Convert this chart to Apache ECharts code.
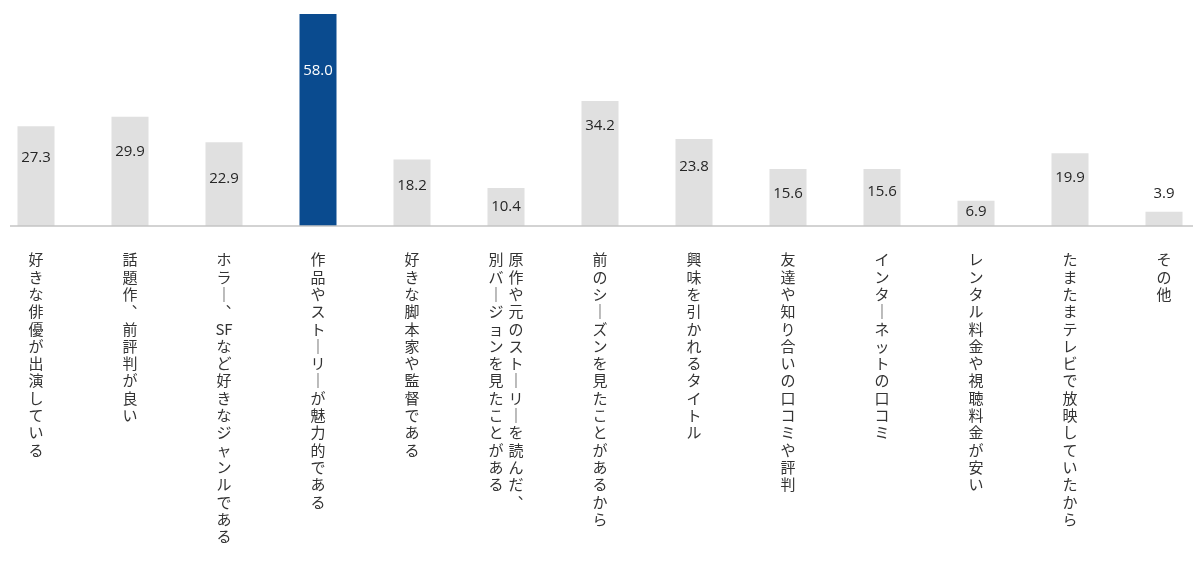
<!DOCTYPE html>
<html>
<head>
<meta charset="utf-8">
<script src="https://cdn.jsdelivr.net/npm/echarts@6/dist/echarts.min.js"></script>
<style>
html,body{margin:0;padding:0;background:#fff;}
#chart{width:1200px;height:588px;}
</style>
</head>
<body>
<div id="chart"></div>
<script>
// ---- data ----
const categories = [
  '好きな俳優が出演している',
  '話題作、前評判が良い',
  'ホラー、SFなど好きなジャンルである',
  '作品やストーリーが魅力的である',
  '好きな脚本家や監督である',
  '原作や元のストーリーを読んだ、\n別バージョンを見たことがある',
  '前のシーズンを見たことがあるから',
  '興味を引かれるタイトル',
  '友達や知り合いの口コミや評判',
  'インターネットの口コミ',
  'レンタル料金や視聴料金が安い',
  'たまたまテレビで放映していたから',
  'その他'
];
const values = [27.3, 29.9, 22.9, 58.0, 18.2, 10.4, 34.2, 23.8, 15.6, 15.6, 6.9, 19.9, 3.9];
const highlightIndex = 3;

// ---- styling (label placement below bar top, px) ----
const labelDrop = [24, 28, 29, 49, 19, 11, 17, 20, 17, 15, 3, 17, -11];

const GRAY = '#e0e0e0';
const BLUE = '#0a4b8f';
const FONT_JP = '"Noto Sans CJK JP", "Noto Sans", sans-serif';

const vertMap = { 'ー': '｜', '、': '︑' };
function tokenize(s) {
  const out = [];
  const chars = Array.from(s);
  for (let i = 0; i < chars.length; i++) {
    const ch = chars[i];
    if (/[A-Za-z]/.test(ch) && out.length && /^[A-Za-z]+$/.test(out[out.length - 1])) {
      out[out.length - 1] += ch;
    } else {
      out.push(vertMap[ch] || ch);
    }
  }
  return out;
}
function verticalLabel(text) {
  const cols = text.split('\n').map(tokenize).reverse(); // vertical writing: first column on the right
  const n = Math.max(...cols.map(c => c.length));
  const lines = [];
  for (let i = 0; i < n; i++) {
    lines.push(cols.map(c => '{c|' + (c[i] || '　') + '}').join(''));
  }
  return lines.join('\n');
}

const chart = echarts.init(document.getElementById('chart'));
chart.setOption({
  animation: false,
  backgroundColor: '#fff',
  grid: { left: 36, right: 36, top: 6.7, height: 219.3, containLabel: false },
  xAxis: {
    type: 'category',
    data: categories,
    boundaryGap: false,
    axisLine: { show: false },
    axisTick: { show: false },
    axisLabel: {
      interval: 0,
      margin: 25,
      verticalAlign: 'top',
      formatter: v => verticalLabel(v),
      rich: {
        c: { width: 20, align: 'center', fontSize: 15, lineHeight: 17.3, color: '#333', fontFamily: FONT_JP }
      }
    }
  },
  yAxis: { type: 'value', min: 0, max: 60, show: false, splitLine: { show: false } },
  series: [{
    type: 'bar',
    barWidth: 37,
    z: 3,
    data: values.map((v, i) => ({
      value: v,
      itemStyle: { color: i === highlightIndex ? BLUE : GRAY },
      label: {
        show: true,
        position: labelDrop[i] >= 0 ? 'insideTop' : 'top',
        distance: Math.abs(labelDrop[i]),
        color: i === highlightIndex ? '#fff' : '#262626',
        fontSize: 15,
        fontFamily: '"Open Sans", "Noto Sans", sans-serif',
        formatter: p => p.value.toFixed(1)
      }
    }))
  }]
});

// baseline under the bars, spanning wider than the category extent
const baseY = chart.convertToPixel({ yAxisIndex: 0 }, 0);
chart.setOption({
  graphic: [{
    type: 'line',
    z: 10,
    shape: { x1: 10, y1: baseY, x2: 1193, y2: baseY },
    style: { stroke: '#c4c4c4', lineWidth: 1.5 }
  }]
});
</script>
</body>
</html>
